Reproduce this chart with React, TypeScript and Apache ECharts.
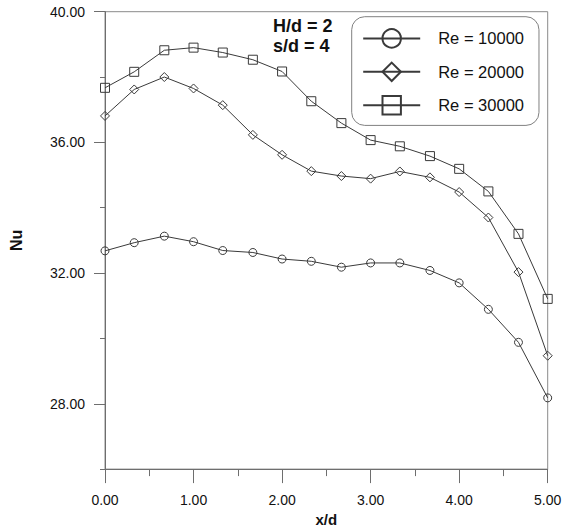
import React, { useEffect, useRef } from "react";
import * as echarts from "echarts";

// Axial positions x/d where Nu was measured
const xd = [0, 0.33, 0.67, 1.0, 1.33, 1.67, 2.0, 2.33, 2.67, 3.0, 3.33, 3.67, 4.0, 4.33, 4.67, 5.0];

// Local Nusselt number for each Reynolds number
const re10000 = [32.68, 32.93, 33.13, 32.96, 32.69, 32.63, 32.43, 32.36, 32.18, 32.31, 32.31, 32.08, 31.70, 30.89, 29.88, 28.18];
const re20000 = [36.81, 37.62, 38.00, 37.65, 37.14, 36.23, 35.62, 35.12, 34.97, 34.89, 35.11, 34.93, 34.48, 33.70, 32.03, 29.47];
const re30000 = [37.67, 38.16, 38.82, 38.90, 38.75, 38.53, 38.17, 37.26, 36.59, 36.07, 35.88, 35.58, 35.19, 34.50, 33.20, 31.21];

const seriesNames = ["Re = 10000", "Re = 20000", "Re = 30000"];
const seriesSymbols = ["circle", "diamond", "rect"];
const seriesSizes = [8, 9, 9];

// Tick values for the Nu axis
const nuMajorTicks = [28, 32, 36, 40];
const nuMinorTicks = [26, 30, 34, 38];

const annotations = ["H/d = 2", "s/d = 4"];

const FONT = "'Liberation Sans', Arial, sans-serif";
const INK = "#111";
const LINE = "#3a3a3a";
const AXIS = "#6e6e6e";

export default function App() {
  const ref = useRef<HTMLDivElement>(null);

  useEffect(() => {
    document.body.style.margin = "0";
    if (!ref.current) return;
    const chart = echarts.init(ref.current, null, { renderer: "svg" });

    const values = [re10000, re20000, re30000];

    const series = values.map((vals, i) => ({
      name: seriesNames[i],
      type: "line",
      data: xd.map((x, j) => [x, vals[j]]),
      symbol: seriesSymbols[i],
      symbolSize: seriesSizes[i],
      showAllSymbol: true,
      lineStyle: { color: LINE, width: 1 },
      itemStyle: { color: "rgba(0,0,0,0)", borderColor: LINE, borderWidth: 1 },
      emphasis: { disabled: true },
      z: 3,
    }));

    const option = {
      animation: false,
      backgroundColor: "#fff",
      grid: {
        left: 101.5,
        right: 22.3,
        top: 11.7,
        bottom: 59.7,
        show: true,
        borderColor: "#8a8a8a",
        borderWidth: 1,
        backgroundColor: "transparent",
      },
      xAxis: [
        {
          type: "value",
          min: 0,
          max: 5,
          interval: 1,
          position: "bottom",
          name: "x/d",
          nameLocation: "middle",
          nameGap: 39,
          nameTextStyle: { fontFamily: FONT, fontSize: 15, fontWeight: "bold", color: INK },
          axisLine: { show: true, lineStyle: { color: AXIS, width: 1 } },
          axisTick: { show: true, length: 14, lineStyle: { color: AXIS } },
          minorTick: { show: true, splitNumber: 2, length: 7, lineStyle: { color: AXIS } },
          axisLabel: {
            margin: 24,
            fontFamily: FONT,
            fontSize: 14,
            color: INK,
            formatter: (v: number) => v.toFixed(2),
          },
          splitLine: { show: false },
          minorSplitLine: { show: false },
        },
      ],
      yAxis: [
        {
          type: "value",
          min: 26,
          max: 40,
          position: "left",
          name: "Nu",
          nameLocation: "middle",
          nameGap: 81,
          nameTextStyle: { fontFamily: FONT, fontSize: 16, fontWeight: "bold", color: INK },
          axisLine: { show: true, lineStyle: { color: AXIS, width: 1 } },
          axisTick: { show: true, length: 11, customValues: nuMajorTicks, lineStyle: { color: AXIS } },
          axisLabel: {
            customValues: nuMajorTicks,
            margin: 20,
            fontFamily: FONT,
            fontSize: 14,
            color: INK,
            formatter: (v: number) => v.toFixed(2),
          },
          splitLine: { show: false },
        },
        {
          type: "value",
          min: 26,
          max: 40,
          position: "left",
          offset: 0,
          axisLine: { show: false },
          axisTick: { show: true, length: 5, customValues: nuMinorTicks, lineStyle: { color: AXIS } },
          axisLabel: { show: false },
          splitLine: { show: false },
        },
      ],
      legend: {
        orient: "vertical",
        left: 351.7,
        top: 16.7,
        data: seriesNames,
        itemWidth: 57,
        itemHeight: 23,
        itemGap: 13,
        padding: [11.5, 15, 10, 10.5],
        borderColor: "#808080",
        borderWidth: 1,
        borderRadius: 13,
        backgroundColor: "#fff",
        selectedMode: false,
        textStyle: { fontFamily: FONT, fontSize: 16.5, color: INK, padding: [0, 0, 0, 13] },
      },
      graphic: annotations.map((t, i) => ({
        type: "text",
        left: 273,
        top: 17 + i * 19.5,
        style: { text: t, font: `bold 18px ${FONT}`, fill: INK },
      })),
      series,
    };

    chart.setOption(option as any);
    return () => chart.dispose();
  }, []);

  return <div ref={ref} style={{ width: 570, height: 532 }} />;
}
